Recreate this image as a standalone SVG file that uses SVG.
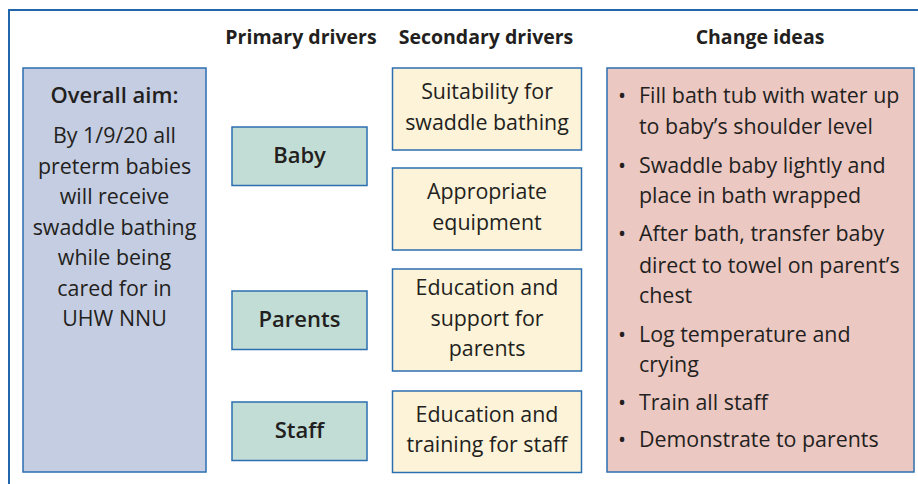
<svg xmlns="http://www.w3.org/2000/svg" width="918" height="484" viewBox="0 0 918 484">
  <style>
    .frame { fill: none; stroke: #2166ab; stroke-width: 2; }
    .box { stroke: #2b6fb0; stroke-width: 1.5; }
    .aim { fill: #c5cde2; }
    .primary { fill: #c2ddd6; }
    .secondary { fill: #fdf3d9; }
    .ideas { fill: #ecc8c3; }
    text { font-family: "Open Sans", "Noto Sans", "DejaVu Sans", sans-serif; fill: #231f20; }
    .head { font-size: 19.5px; font-weight: 700; text-anchor: middle; }
    .title { font-size: 22px; font-weight: 600; text-anchor: middle; }
    .body { font-size: 21.4px; text-anchor: middle; }
    .pd { font-size: 22px; font-weight: 600; text-anchor: middle; }
    .li { font-size: 21.4px; }
  </style>
  <rect width="918" height="484" fill="#ffffff"/>
  <!-- outer frame, open at right and bottom edges -->
  <rect class="frame" x="9" y="10" width="940" height="500"/>

  <g id="headers">
    <text class="head" x="301" y="44">Primary drivers</text>
    <text class="head" x="486" y="44">Secondary drivers</text>
    <text class="head" x="760" y="44">Change ideas</text>
  </g>

  <g id="aim">
    <rect class="box aim" x="23" y="68" width="183" height="404"/>
    <text class="title" x="114.5" y="103">Overall aim:</text>
    <text class="body" x="114.5" y="143">By 1/9/20 all</text>
    <text class="body" x="114.5" y="173.5">preterm babies</text>
    <text class="body" x="114.5" y="204">will receive</text>
    <text class="body" x="114.5" y="234.5">swaddle bathing</text>
    <text class="body" x="114.5" y="265">while being</text>
    <text class="body" x="114.5" y="295.5">cared for in</text>
    <text class="body" x="114.5" y="326">UHW NNU</text>
  </g>

  <g id="baby">
    <rect class="box primary" x="232" y="127" width="135" height="58.5"/>
    <text class="pd" x="299.5" y="163">Baby</text>
  </g>
  <g id="parents">
    <rect class="box primary" x="232" y="291" width="135" height="58.5"/>
    <text class="pd" x="299.5" y="326.5">Parents</text>
  </g>
  <g id="staff">
    <rect class="box primary" x="232" y="402" width="135" height="58.5"/>
    <text class="pd" x="299.5" y="438">Staff</text>
  </g>

  <g id="suitability">
    <rect class="box secondary" x="392.5" y="68" width="189" height="82"/>
    <text class="body" x="487" y="99">Suitability for</text>
    <text class="body" x="487" y="130">swaddle bathing</text>
  </g>
  <g id="equipment">
    <rect class="box secondary" x="392.5" y="168" width="189" height="82"/>
    <text class="body" x="487" y="199">Appropriate</text>
    <text class="body" x="487" y="230">equipment</text>
  </g>
  <g id="support-parents">
    <rect class="box secondary" x="392.5" y="269" width="189" height="102"/>
    <text class="body" x="487" y="295">Education and</text>
    <text class="body" x="487" y="326">support for</text>
    <text class="body" x="487" y="356">parents</text>
  </g>
  <g id="training-staff">
    <rect class="box secondary" x="392.5" y="391" width="189" height="81.5"/>
    <text class="body" x="487" y="422">Education and</text>
    <text class="body" x="487" y="452">training for staff</text>
  </g>

  <g id="change-ideas">
    <rect class="box ideas" x="607" y="68" width="307" height="404"/>
    <g class="li">
      <text x="618" y="103">•</text><text x="639" y="103">Fill bath tub with water up</text>
      <text x="639" y="134">to baby’s shoulder level</text>
      <text x="618" y="173">•</text><text x="639" y="173">Swaddle baby lightly and</text>
      <text x="639" y="203">place in bath wrapped</text>
      <text x="618" y="241">•</text><text x="639" y="241">After bath, transfer baby</text>
      <text x="639" y="273">direct to towel on parent’s</text>
      <text x="639" y="303">chest</text>
      <text x="618" y="342">•</text><text x="639" y="342">Log temperature and</text>
      <text x="639" y="372">crying</text>
      <text x="618" y="410">•</text><text x="639" y="410">Train all staff</text>
      <text x="618" y="447">•</text><text x="639" y="447">Demonstrate to parents</text>
    </g>
  </g>

  <g id="connectors"/>
</svg>
